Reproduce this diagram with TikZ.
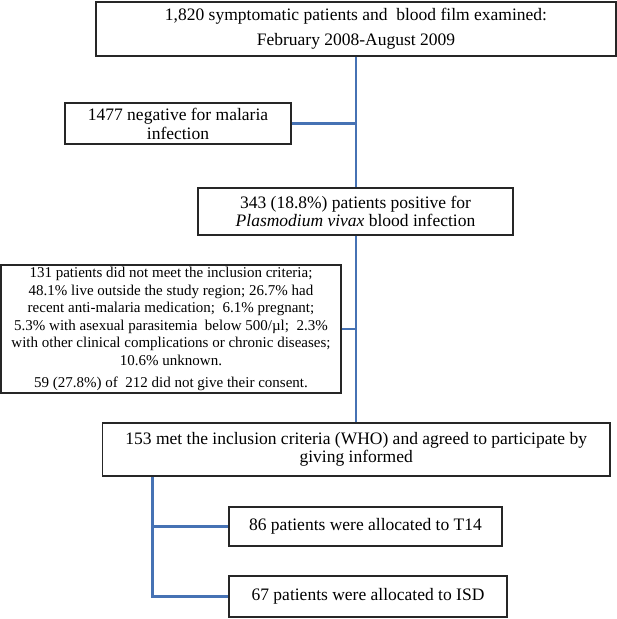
\documentclass[tikz,border=0pt]{standalone}
\usepackage{fontspec}
\setmainfont{Liberation Serif}
\definecolor{linkblue}{RGB}{70,114,180}
\begin{document}
\begin{tikzpicture}[x=1pt,y=-1pt,
  box/.style={draw=black!85, line width=1.2pt, rectangle, inner sep=0pt, align=center,
    font=\fontsize{17.5}{18}\selectfont},
  link/.style={draw=linkblue, line width=2.4pt}]
\useasboundingbox (0,0) rectangle (617,619);
\node[box, minimum width=520pt, minimum height=54pt, font=\fontsize{17.5}{25}\selectfont] (b1) at (356,29)
  {1,820 symptomatic patients and\ \ blood film examined:\\February 2008-August 2009};
\node[box, minimum width=226pt, minimum height=41pt, font=\fontsize{17.5}{19}\selectfont] (b1477) at (178,123.5)
  {1477 negative for malaria\\infection};
\node[box, minimum width=315pt, minimum height=47pt] (b343) at (355.5,211.5)
  {343 (18.8\%) patients positive for\\\textit{Plasmodium vivax} blood infection};
\node[box, minimum width=340pt, minimum height=128pt, font=\fontsize{15}{17.6}\selectfont] (b131) at (171,329)
  {131 patients did not meet the inclusion criteria;\\
   48.1\% live outside the study region; 26.7\% had\\
   recent anti-malaria medication;\ \ 6.1\% pregnant;\\
   5.3\% with asexual parasitemia\ \ below 500/µl;\ \ 2.3\%\\
   with other clinical complications or chronic diseases;\\
   10.6\% unknown.\\[4.4pt]
   59 (27.8\%) of\ \ 212 did not give their consent.};
\node[box, minimum width=507.5pt, minimum height=53pt] (b153) at (356.25,449.5)
  {153 met the inclusion criteria (WHO) and agreed to participate by\\giving informed};
\node[box, minimum width=273pt, minimum height=39pt] (b86) at (365.5,526.5)
  {86 patients were allocated to T14};
\node[box, minimum width=278pt, minimum height=41pt] (b67) at (368,596.5)
  {67 patients were allocated to ISD};
\path (b153.south west) ++(50.5,0) coordinate (tap);
\draw[link] (b1.south) -- (b1.south |- b343.north);
\draw[link] (b1477.east) -- (b1477.east -| b1.south);
\draw[link] (b1.south |- b343.south) -- (b1.south |- b153.north);
\draw[link] (b131.east) -- (b131.east -| b1.south);
\draw[link] (tap) |- (b67.west);
\draw[link] (tap |- b86.west) -- (b86.west);
\end{tikzpicture}
\end{document}
